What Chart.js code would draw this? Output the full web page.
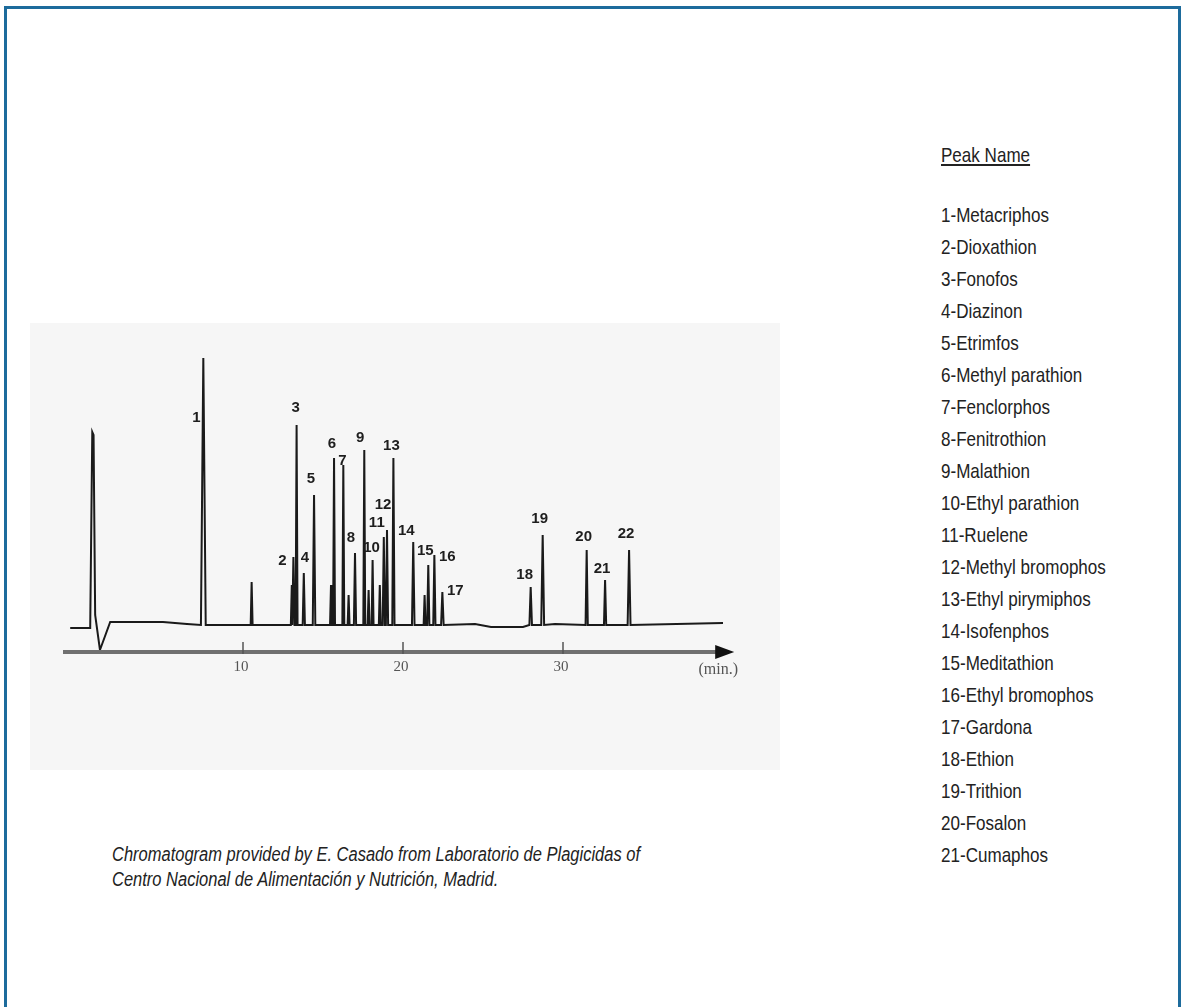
<!DOCTYPE html>
<html>
<head>
<meta charset="utf-8">
<script src="https://cdn.jsdelivr.net/npm/chart.js@4"></script>
<style>
  html, body { margin: 0; padding: 0; background: #fff; }
  body { width: 1182px; height: 1007px; position: relative; overflow: hidden; }
  #frame { position: absolute; left: 4px; top: 6px; width: 1177px; height: 1020px; border: 3px solid #1d6b9c; box-sizing: border-box; }
  #panel { position: absolute; left: 30px; top: 323px; width: 750px; height: 447px; background: #f6f6f6; }
  #panel canvas { position: absolute; left: 0; top: 0; }
  #legend { position: absolute; left: 941px; top: 143px; font-family: "Liberation Sans", Arial, sans-serif; font-size: 21px; color: #222; transform-origin: 0 0; white-space: nowrap; }
  #legend .title { text-decoration: underline; line-height: 24px; height: 24px; }
  #legend .items { margin-top: 32px; line-height: 32px; }
  #caption { position: absolute; left: 112px; top: 842px; font-family: "Liberation Sans", Arial, sans-serif; font-style: italic; font-size: 20px; line-height: 25px; color: #222; transform-origin: 0 0; white-space: nowrap; }
</style>
</head>
<body>
<div id="frame"></div>
<div id="panel"><canvas id="c" width="750" height="447"></canvas></div>
<div id="legend"><div class="title">Peak Name</div><div class="items" id="items"></div></div>
<div id="caption"><div id="cap1">Chromatogram provided by E. Casado from Laboratorio de Plagicidas of</div><div>Centro Nacional de Alimentación y Nutrición, Madrid.</div></div>
<script>
// ---------- data ----------
const peakLabels  = ['1','2','3','4','5','6','7','8','9','10','11','12','13','14','15','16','17','18','19','20','21','22'];
const peakTimes   = [7.52, 13.15, 13.35, 13.8, 14.44, 15.69, 16.27, 17.0, 17.58, 18.1, 18.8, 19.0, 19.4, 20.64, 21.58, 21.96, 22.46, 27.98, 28.73, 31.48, 32.63, 34.13];
const peakHeights = [267, 68, 200, 52, 130, 167, 160, 72, 175, 65, 88, 95, 167, 83, 60, 70, 33, 38, 90, 75, 45, 75];
const peakWidths  = [0.30, 0.14, 0.12, 0.14, 0.16, 0.12, 0.12, 0.14, 0.12, 0.12, 0.14, 0.14, 0.14, 0.16, 0.14, 0.14, 0.16, 0.16, 0.18, 0.14, 0.14, 0.18];
// unlabelled small peaks
const minorTimes   = [10.54, 13.05, 15.5, 16.6, 17.85, 18.55, 21.35];
const minorHeights = [43, 40, 40, 30, 35, 40, 30];
// baseline incl. solvent front (time, signal)
const baseTimes  = [-0.8, 0.45, 0.58, 0.66, 0.76, 1.06, 1.7, 5.0, 6.5, 24.5, 25.5, 27.5, 29.5, 40.0];
const baseValues = [-3, -3, 193, 190, 10, -25, 3, 3, 1, 1, -2, -2, 1, 2];
const axisTicks  = [10, 20, 30];
const axisUnit   = '(min.)';
const peakNames  = ['1-Metacriphos','2-Dioxathion','3-Fonofos','4-Diazinon','5-Etrimfos','6-Methyl parathion','7-Fenclorphos','8-Fenitrothion','9-Malathion','10-Ethyl parathion','11-Ruelene','12-Methyl bromophos','13-Ethyl pirymiphos','14-Isofenphos','15-Meditathion','16-Ethyl bromophos','17-Gardona','18-Ethion','19-Trithion','20-Fosalon','21-Cumaphos'];

// ---------- styles ----------
const labelOffsets = [[-7,60],[-11,4],[-1,-17],[1,-15],[-3,-16],[-2,-14],[-1,-4],[-4,-15],[-4,-12],[-1,-12],[-7,-14],[-4,-25],[-2,-12],[-7,-11],[-3,-14],[13,2],[13,-1],[-6,-12],[-3,-16],[-3,-13],[-3,-11],[-3,-16]];

document.getElementById('items').innerHTML = peakNames.map(n => '<div>' + n + '</div>').join('');

// condense the text blocks to the reference widths
(function () {
  const m = document.createElement('canvas').getContext('2d');
  m.font = '21px "Liberation Sans", Arial, sans-serif';
  const sl = 108 / m.measureText('1-Metacriphos').width;
  document.getElementById('legend').style.transform = 'scaleX(' + sl.toFixed(4) + ')';
  m.font = 'italic 20px "Liberation Sans", Arial, sans-serif';
  const sc = 528 / m.measureText('Chromatogram provided by E. Casado from Laboratorio de Plagicidas of').width;
  document.getElementById('caption').style.transform = 'scaleX(' + sc.toFixed(4) + ')';
})();

// build trace points for the library
const pts = [];
baseTimes.forEach((t, i) => pts.push({x: t, y: baseValues[i]}));
peakTimes.forEach((t, i) => {
  const w = peakWidths[i] / 2;
  pts.push({x: t - w, y: 0}, {x: t, y: peakHeights[i]}, {x: t + w, y: 0});
});
minorTimes.forEach((t, i) => {
  pts.push({x: t - 0.06, y: 0}, {x: t, y: minorHeights[i]}, {x: t + 0.06, y: 0});
});
pts.sort((a, b) => a.x - b.x);

const axisLevel = -27;
const overlay = {
  id: 'overlay',
  afterDatasetsDraw(chart) {
    const {ctx, scales: {x, y}} = chart;
    const ay = y.getPixelForValue(axisLevel);
    ctx.save();
    // axis line
    ctx.strokeStyle = '#707070';
    ctx.lineWidth = 4;
    ctx.beginPath();
    ctx.moveTo(x.getPixelForValue(-1.25), ay);
    ctx.lineTo(x.getPixelForValue(39.8), ay);
    ctx.stroke();
    // arrow head
    ctx.fillStyle = '#111';
    const ax = x.getPixelForValue(40.7);
    ctx.beginPath();
    ctx.moveTo(ax, ay);
    ctx.lineTo(ax - 19, ay - 7);
    ctx.lineTo(ax - 19, ay + 7);
    ctx.closePath();
    ctx.fill();
    // ticks
    ctx.strokeStyle = '#555';
    ctx.lineWidth = 1.5;
    ctx.fillStyle = '#555';
    ctx.textAlign = 'center';
    ctx.textBaseline = 'middle';
    ctx.font = '15px "Liberation Serif", serif';
    axisTicks.forEach(v => {
      const px = x.getPixelForValue(v);
      ctx.beginPath();
      ctx.moveTo(px, ay - 10);
      ctx.lineTo(px, ay + 2);
      ctx.stroke();
      ctx.fillText(String(v), px - 2, ay + 15);
    });
    ctx.font = '16px "Liberation Serif", serif';
    ctx.fillText(axisUnit, x.getPixelForValue(39.7), ay + 18);
    // peak labels
    ctx.fillStyle = '#1e1e1e';
    ctx.font = 'bold 15px "Liberation Sans", Arial, sans-serif';
    peakLabels.forEach((lab, i) => {
      const px = x.getPixelForValue(peakTimes[i]) + labelOffsets[i][0];
      const py = y.getPixelForValue(peakHeights[i]) + labelOffsets[i][1];
      ctx.fillText(lab, px, py);
    });
    ctx.restore();
  }
};

new Chart(document.getElementById('c'), {
  type: 'line',
  data: { datasets: [{ data: pts, borderColor: '#1a1a1a', borderWidth: 2, pointRadius: 0, tension: 0, fill: false }] },
  options: {
    responsive: false,
    animation: false,
    layout: { padding: 0 },
    plugins: { legend: { display: false }, tooltip: { enabled: false } },
    scales: {
      x: { type: 'linear', min: -3.3125, max: 43.5625, display: false },
      y: { type: 'linear', min: -145, max: 302, display: false }
    }
  },
  plugins: [overlay]
});
</script>
</body>
</html>
